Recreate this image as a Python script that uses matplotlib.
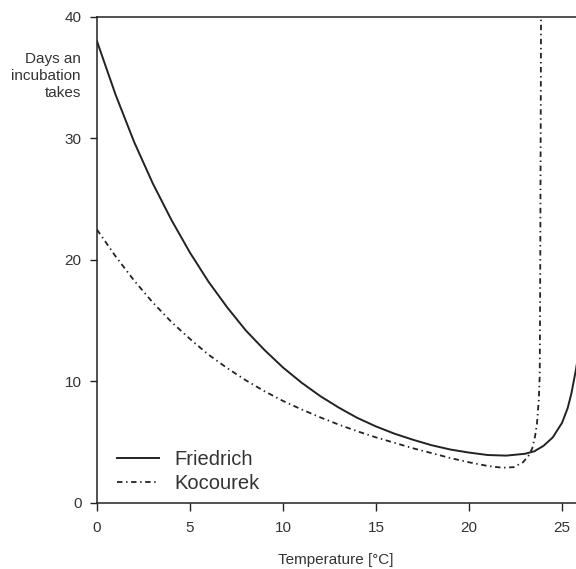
import matplotlib
matplotlib.use("Agg")
import matplotlib.pyplot as plt

plt.rcParams['font.family'] = ['Liberation Sans', 'DejaVu Sans']

# Friedrich curve
fr_temp = [0, 1, 2, 3, 4, 5, 6, 7, 8, 9, 10, 11, 12, 13, 14, 15, 16, 17, 18,
           19, 20, 21, 22, 23, 23.5, 24, 24.5, 25, 25.3, 25.5, 25.75, 26]
fr_days = [38.0, 33.6, 29.7, 26.3, 23.3, 20.6, 18.2, 16.1, 14.2, 12.6, 11.15,
           9.9, 8.8, 7.85, 7.0, 6.3, 5.7, 5.2, 4.75, 4.4, 4.15, 3.95, 3.9,
           4.05, 4.25, 4.7, 5.4, 6.6, 7.8, 9.0, 11.0, 13.5]

# Kocourek curve
ko_temp = [0, 1, 2, 3, 4, 5, 6, 7, 8, 9, 10, 11, 12, 13, 14, 15, 16, 17, 18,
           19, 20, 21, 21.8, 22.4, 22.9, 23.2, 23.4, 23.55, 23.65, 23.75,
           23.8, 23.83, 23.87, 23.9]
ko_days = [22.5, 20.3, 18.3, 16.5, 14.9, 13.5, 12.2, 11.1, 10.1, 9.2, 8.4,
           7.7, 7.05, 6.45, 5.9, 5.4, 4.95, 4.5, 4.1, 3.7, 3.35, 3.05, 2.9,
           2.95, 3.35, 3.9, 4.5, 5.5, 6.5, 8.5, 10.5, 20, 40, 45]

x_ticks = [0, 5, 10, 15, 20, 25]
y_ticks = [0, 10, 20, 30, 40]

ink = '#222222'
txt = '#333333'

fig = plt.figure(figsize=(5.76, 5.69), dpi=100)
ax = fig.add_axes([97 / 576, 1 - 503 / 569, 479 / 576, 486 / 569])

ax.plot(fr_temp, fr_days, color=ink, lw=1.4, label='Friedrich')
ax.plot(ko_temp, ko_days, color=ink, lw=1.3, dashes=(3, 2, 0.8, 2),
        label='Kocourek')

ax.set_xlim(0, 25.75)
ax.set_ylim(0, 40)
ax.set_xticks(x_ticks)
ax.set_yticks(y_ticks)

ax.spines['right'].set_visible(False)
for s in ['top', 'left', 'bottom']:
    ax.spines[s].set_color(ink)
    ax.spines[s].set_linewidth(1.1)

ax.tick_params(axis='x', direction='out', length=6, width=1, color=ink,
               labelsize=11, labelcolor=txt, pad=7)
ax.tick_params(axis='y', direction='out', length=5, width=1, color=ink,
               labelsize=11, labelcolor=txt, pad=6)

fig.text(81 / 576, 1 - 76 / 569, 'Days an\nincubation\ntakes', ha='right',
         va='center', fontsize=11, color=txt, linespacing=1.25)
fig.text(336 / 576, 1 - 560 / 569, 'Temperature [°C]', ha='center',
         va='center', fontsize=11, color=txt)

ax.legend(loc='lower left', bbox_to_anchor=(0.042, 0.02), frameon=False,
          fontsize=14.5, handlelength=2.1, handletextpad=0.75,
          labelspacing=0.25, borderpad=0, borderaxespad=0, labelcolor=txt)

fig.savefig('out.png', dpi=100)
